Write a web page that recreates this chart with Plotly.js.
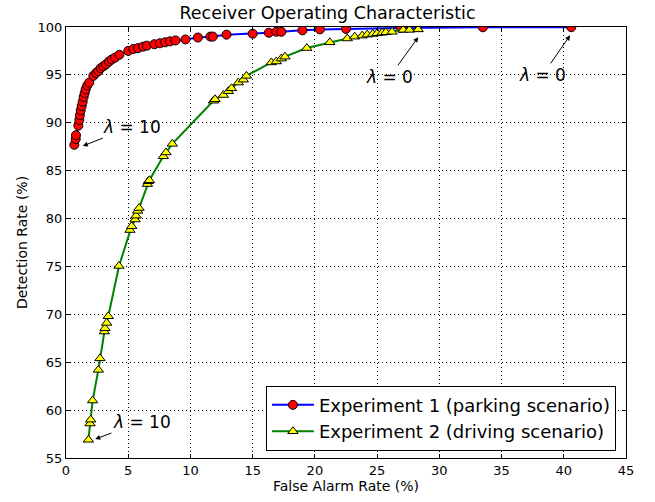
<!DOCTYPE html>
<html>
<head>
<meta charset="utf-8">
<script src="https://cdn.plot.ly/plotly-3.0.1.min.js"></script>
<style>html,body{margin:0;padding:0;background:#fff;}#chart{width:655px;height:502px;}</style>
</head>
<body>
<div id="chart"></div>
<script>
// Experiment 1 (parking scenario)
const parkX = [0.67,0.78,0.80,0.99,1.07,1.12,1.18,1.26,1.34,1.42,1.50,1.58,1.71,1.87,2.2,2.41,2.6,2.79,3.0,3.21,3.46,3.67,3.94,4.29,5.0,5.4,5.8,6.2,6.5,7.1,7.55,7.96,8.36,8.8,9.6,10.6,11.6,11.8,12.9,15.0,16.3,16.9,17.3,19.0,20.4,22.5,26.9,33.5,40.6];
const parkY = [87.7,88.3,88.7,89.7,90.3,90.8,91.3,91.75,92.2,92.7,93.1,93.5,93.9,94.2,94.9,95.2,95.4,95.7,95.9,96.1,96.4,96.6,96.8,97.1,97.5,97.7,97.8,97.95,98.05,98.2,98.3,98.4,98.5,98.6,98.7,98.9,99.0,99.0,99.2,99.3,99.4,99.5,99.5,99.65,99.75,99.8,99.9,99.97,99.98];
// Experiment 2 (driving scenario)
const driveX = [1.8,1.93,1.98,2.14,2.6,2.73,3.08,3.13,3.27,3.4,4.26,5.14,5.28,5.55,5.63,5.76,5.87,6.54,6.62,6.7,7.82,8.04,8.54,11.85,11.98,12.65,13.05,13.3,13.85,14.25,14.5,16.5,16.9,17.3,17.6,19.35,21.2,22.6,23.2,23.8,24.2,24.65,25.0,25.4,25.7,26.2,27.1,27.6,28.3];
const driveY = [56.9,58.6,59.0,61.0,64.2,65.4,68.2,68.55,69.1,69.8,75.05,78.8,79.2,79.9,80.3,80.8,81.1,83.6,83.9,84.0,86.5,86.9,87.8,92.3,92.45,92.9,93.3,93.6,94.2,94.5,94.9,96.3,96.4,96.7,96.9,97.8,98.4,98.8,98.99,99.1,99.2,99.27,99.34,99.4,99.45,99.5,99.7,99.7,99.75];
const xTicks = [0,5,10,15,20,25,30,35,40,45];
const yTicks = [55,60,65,70,75,80,85,90,95,100];

const F = '"DejaVu Sans", sans-serif';
const traces = [
  {x: parkX, y: parkY, mode: 'lines+markers', name: 'Experiment 1 (parking scenario)',
   line: {color: '#0000ff', width: 2},
   marker: {symbol: 'circle', size: 9, color: '#ff0000', line: {color: '#000', width: 1}}},
  {x: driveX, y: driveY, mode: 'lines+markers', name: 'Experiment 2 (driving scenario)',
   line: {color: '#008000', width: 2},
   marker: {symbol: 'triangle-up', size: 9, color: '#ffff00', line: {color: '#000', width: 1}}}
];
function ann(tx, ty, hx, hy) {
  return {x: hx, y: hy, ax: tx, ay: ty, axref: 'x', ayref: 'y', xref: 'x', yref: 'y',
    text: '<i>λ</i> = 10', showarrow: true, arrowhead: 2, arrowsize: 1, arrowwidth: 1,
    arrowcolor: '#000', standoff: 2, font: {family: F, size: 17, color: '#000'}};
}
const a1 = ann(5.3, 89.6, 1.2, 87.5);
const a2 = ann(6.1, 58.8, 2.2, 56.9);
const a3 = ann(26.0, 94.8, 28.4, 99.1); a3.text = '<i>λ</i> = 0';
const a4 = ann(38.3, 95.0, 40.6, 99.3); a4.text = '<i>λ</i> = 0';

const axBase = {showline: true, linecolor: '#000', linewidth: 1, mirror: 'ticks',
  ticks: 'inside', ticklen: 4, tickcolor: '#000', showgrid: true, gridcolor: '#000',
  griddash: '1px,3px', gridwidth: 1, zeroline: false, tickfont: {family: F, size: 13, color: '#000'}};
const layout = {
  width: 655, height: 502, margin: {l: 66, r: 29, t: 27, b: 44},
  paper_bgcolor: '#fff', plot_bgcolor: '#fff',
  title: {text: 'Receiver Operating Characteristic', font: {family: F, size: 17.5, color: '#000'}, x: 0.5, xanchor: 'center', y: 0.975, yanchor: 'middle'},
  xaxis: Object.assign({}, axBase, {range: [0, 45], tickvals: xTicks, title: {text: 'False Alarm Rate (%)', font: {family: F, size: 14, color: '#000'}, standoff: 3}}),
  yaxis: Object.assign({}, axBase, {range: [55, 100], tickvals: yTicks, title: {text: 'Detection Rate (%)', font: {family: F, size: 14, color: '#000'}, standoff: 6}}),
  legend: {x: 0.982, y: 0.017, xanchor: 'right', yanchor: 'bottom', bgcolor: '#fff', bordercolor: '#000', borderwidth: 1, font: {family: F, size: 18, color: '#000'}, tracegroupgap: 0, itemwidth: 42},
  annotations: [a1, a2, a3, a4],
  showlegend: true
};
Plotly.newPlot('chart', traces, layout, {displayModeBar: false, staticPlot: true});
</script>
</body>
</html>
